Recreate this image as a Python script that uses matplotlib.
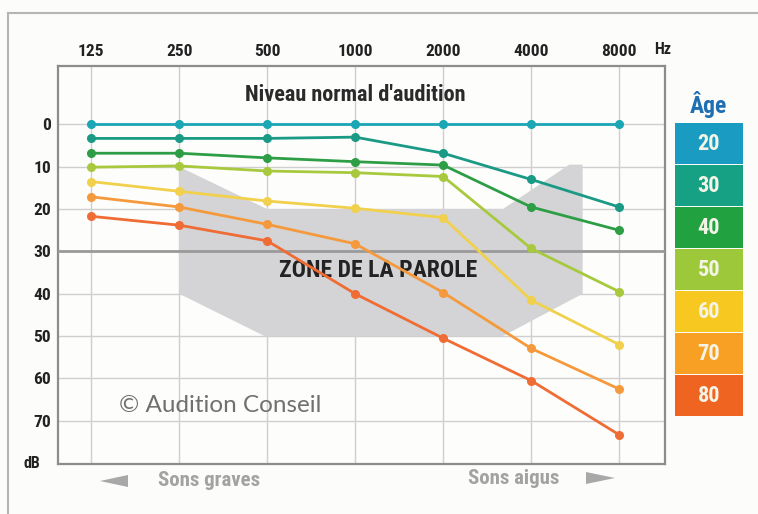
import os
import matplotlib
matplotlib.use("Agg")
import matplotlib.pyplot as plt
from matplotlib import font_manager as fm
from matplotlib.font_manager import FontProperties
from matplotlib.patches import Polygon, Rectangle
from matplotlib.lines import Line2D

# ---- data ----
freqs = [125, 250, 500, 1000, 2000, 4000, 8000]
freq_labels = ["125", "250", "500", "1000", "2000", "4000", "8000"]
db_ticks = [0, 10, 20, 30, 40, 50, 60, 70]
ages = ["20", "30", "40", "50", "60", "70", "80"]
loss_20 = [0, 0, 0, 0, 0, 0, 0]
loss_30 = [3.3, 3.3, 3.3, 3.0, 6.8, 13.0, 19.5]
loss_40 = [6.8, 6.8, 7.9, 8.8, 9.6, 19.5, 25.0]
loss_50 = [10.1, 9.8, 11.0, 11.4, 12.3, 29.3, 39.5]
loss_60 = [13.5, 15.8, 18.1, 19.8, 22.0, 41.5, 52.0]
loss_70 = [17.1, 19.5, 23.6, 28.2, 39.7, 52.9, 62.5]
loss_80 = [21.7, 23.8, 27.5, 40.0, 50.5, 60.5, 73.3]
series = [loss_20, loss_30, loss_40, loss_50, loss_60, loss_70, loss_80]
# speech zone outline (frequency in Hz, level in dB)
zone_freq = [250, 500, 3200, 5400, 6000, 6000, 3200, 490, 250]
zone_db = [10, 20, 20, 9.5, 9.5, 40, 50, 50, 40]

line_colors = ["#1ba5b5", "#1a9a84", "#2e9e46", "#a8c93e", "#f1d04c", "#f59a3c", "#ef6c34"]
box_colors = ["#1a9bc2", "#16a084", "#22a140", "#9dc83a", "#f7c820", "#f8a024", "#f06422"]

# ---- pick a condensed bold font if one is installed ----
cand_files = [f.fname for f in fm.fontManager.ttflist]
prefs = ["LiberationSansNarrow-Bold", "RobotoCondensed-Bold", "DejaVuSansCondensed-Bold",
         "OpenSans_Condensed-Bold", "OpenSansCondensed-Bold", "NotoSans-CondensedBold",
         "Roboto-Bold"]
narrow_file = None
for p in prefs:
    for fpath in cand_files:
        if os.path.basename(fpath).startswith(p):
            narrow_file = fpath
            break
    if narrow_file:
        break


def NB(size):
    if narrow_file:
        return FontProperties(fname=narrow_file, size=size)
    return FontProperties(family="DejaVu Sans", weight="bold", size=size)


W, H = 758, 514
fig = plt.figure(figsize=(W / 100, H / 100), dpi=100)
fig.patch.set_facecolor("#fcfcfb")


def fx(px):
    return px / W


def fy(py):
    return 1 - py / H


ax = fig.add_axes([fx(58), fy(464), fx(665) - fx(58), (464 - 66) / H])
ax.set_facecolor("#fdfdfc")
ax.set_xscale("log", base=2)
ax.set_xlim(96.2, 11480)
ax.set_ylim(80.2, -13.8)

# grid
for f in freqs:
    ax.axvline(f, color="#cfcfcf", lw=1, zorder=1)
for d in db_ticks:
    if d == 30:
        continue
    ax.axhline(d, color="#cfcfcf", lw=1, zorder=1)

# speech zone
ax.add_patch(Polygon(list(zip(zone_freq, zone_db)), closed=True,
                     facecolor="#d4d4d6", edgecolor="none", zorder=2))
ax.axhline(30, color="#9a9a9a", lw=2, zorder=3)

# curves
for vals, c in zip(series, line_colors):
    ax.plot(freqs, vals, color=c, lw=2, marker="o", ms=5.5, zorder=4)

ax.xaxis.tick_top()
ax.set_xticks(freqs)
ax.xaxis.set_minor_locator(matplotlib.ticker.NullLocator())
ax.set_xticklabels(freq_labels, fontproperties=NB(12.5), color="#222222")
ax.set_yticks(db_ticks)
ax.set_yticklabels([str(d) for d in db_ticks], fontproperties=NB(12.5), color="#222222")
ax.tick_params(axis="both", length=0)
ax.tick_params(axis="x", pad=5)
ax.tick_params(axis="y", pad=5)
for s in ax.spines.values():
    s.set_color("#8c8c8c")
    s.set_linewidth(1.6)

# texts inside
ax.text(1000, -6.9, "Niveau normal d'audition", fontproperties=NB(16),
        color="#2a2a2a", ha="center", va="center", zorder=5)
ax.text(1200, 34.5, "ZONE DE LA PAROLE", fontproperties=NB(17),
        color="#222222", ha="center", va="center", zorder=3.5)
ax.text(155, 66.3, "© Audition Conseil", family=["Lato", "Noto Sans", "DejaVu Sans"],
        fontsize=17.5, color="#707070", ha="left", va="center", zorder=5)

# units
fig.text(fx(663), fy(50), "Hz", fontproperties=NB(11.5), color="#222222", ha="center", va="center")
fig.text(fx(32), fy(464), "dB", fontproperties=NB(11.5), color="#222222", ha="center", va="center")

# bottom hints
fig.text(fx(209), fy(481), "Sons graves", fontproperties=NB(15),
         color="#a2a2a2", ha="center", va="center")
fig.text(fx(514), fy(479), "Sons aigus", fontproperties=NB(15),
         color="#a2a2a2", ha="center", va="center")
fig.patches.append(Polygon([(fx(100), fy(481)), (fx(128), fy(475)), (fx(128), fy(487))],
                           closed=True, transform=fig.transFigure, facecolor="#a8a8a8", edgecolor="none"))
fig.patches.append(Polygon([(fx(615), fy(478)), (fx(586), fy(472)), (fx(586), fy(484))],
                           closed=True, transform=fig.transFigure, facecolor="#a8a8a8", edgecolor="none"))

# legend
fig.text(fx(708), fy(104), "Âge", fontproperties=NB(17), color="#1f6fb2", ha="center", va="center")
box_top = 123
box_h = 42
for i, (a, c) in enumerate(zip(ages, box_colors)):
    y0 = box_top + i * box_h
    fig.patches.append(Rectangle((fx(675), fy(y0 + box_h - 1)), fx(743) - fx(675), (box_h - 1) / H,
                                 transform=fig.transFigure, facecolor=c, edgecolor="none"))
    fig.text(fx(709), fy(y0 + box_h / 2), a, fontproperties=NB(16),
             color="#f4f4e6", ha="center", va="center")

# outer frame
fig.add_artist(Line2D([fx(8), fx(8)], [0, fy(13)], transform=fig.transFigure, color="#b5b5b5", lw=1.5))
fig.add_artist(Line2D([fx(8), 1], [fy(13), fy(13)], transform=fig.transFigure, color="#b5b5b5", lw=1.5))

fig.savefig("out.png", dpi=100, facecolor=fig.get_facecolor())
